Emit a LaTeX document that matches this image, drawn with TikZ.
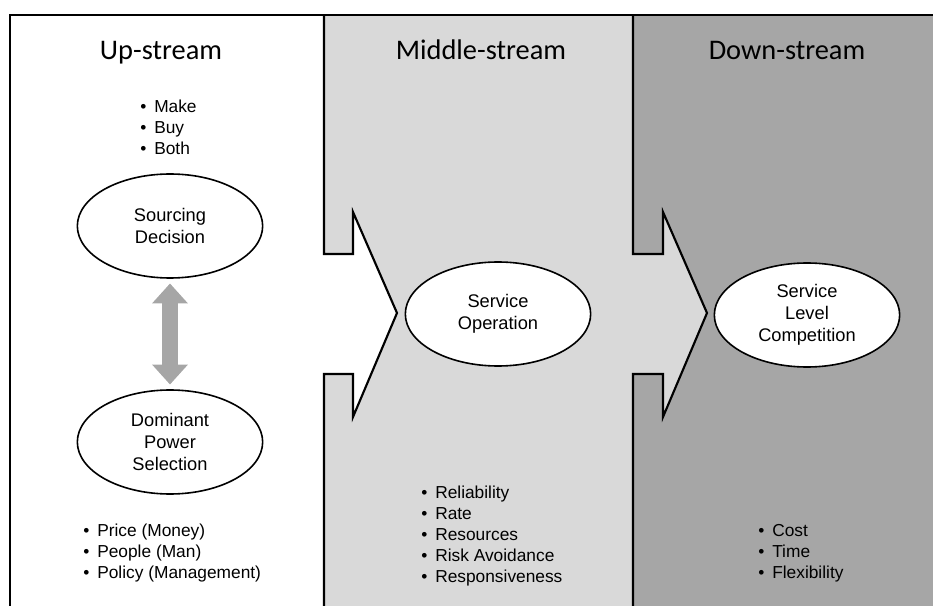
\documentclass[tikz,border=0pt]{standalone}
\usepackage{fontspec}
\setmainfont{Liberation Sans}
\newfontfamily\titlefont{Carlito}
\usetikzlibrary{shapes.geometric,arrows.meta}

\definecolor{midgray}{HTML}{D9D9D9}
\definecolor{downgray}{HTML}{A6A6A6}

\newcommand{\bitem}[1]{\makebox[10.5pt][l]{\textbullet}#1}

\begin{document}
\begin{tikzpicture}[x=0.75pt, y=-0.75pt, line join=miter,
  stage/.style={ellipse, draw, line width=1.2pt, fill=white, minimum width=139pt, minimum height=78pt,
    inner sep=0pt, align=center, font=\fontsize{13.7}{16.5}\selectfont},
  heading/.style={anchor=base, inner sep=0pt, font=\titlefont\fontsize{21.3}{25}\selectfont},
  bullets/.style={anchor=base west, inner sep=0pt, align=left, font=\fontsize{13}{15.75}\selectfont},
  boundary/.style={line width=1.6pt},
  linkarrow/.style={draw=downgray, line width=12.5pt,
    {Triangle[width=26pt,length=15pt]}-{Triangle[width=26pt,length=15pt]},
    shorten <=3.5pt, shorten >=3.5pt}]

  \useasboundingbox (0,0) rectangle (933,606);

  % Panels
  \fill[midgray] (324,15) -- (324,254) -- (353,254) -- (353,212) -- (397,313) -- (353,417)
    -- (353,374) -- (324,374) -- (324,606) -- (933,606) -- (933,15) -- cycle;
  \fill[downgray] (633,15) -- (633,254) -- (663,254) -- (663,212) -- (707,313) -- (663,417)
    -- (663,374) -- (633,374) -- (633,606) -- (933,606) -- (933,15) -- cycle;

  % Panel edges
  \draw[boundary] (324,15) -- (324,254) -- (353,254) -- (353,212) -- (397,313) -- (353,417)
    -- (353,374) -- (324,374) -- (324,606);
  \draw[boundary] (633,15) -- (633,254) -- (663,254) -- (663,212) -- (707,313) -- (663,417)
    -- (663,374) -- (633,374) -- (633,606);
  \draw[line width=2pt] (10,606) -- (10,15) -- (933,15);

  % Headings
  \node[heading] (up)   at (161,60) {Up-stream};
  \node[heading] (mid)  at (481,60) {Middle-stream};
  \node[heading] (down) at (787,60) {Down-stream};

  % Stages
  \node[stage] (src) at (170,226) {Sourcing\\Decision};
  \node[stage] (dom) at (170,442) {Dominant\\Power\\Selection};
  \node[stage] (ops) at (498,314) {Service\\Operation};
  \node[stage] (lvl) at (807,315) {Service\\Level\\Competition};

  \draw[linkarrow] (src) -- (dom);

  % Lists (anchored on the last line)
  \node[bullets] (make) at (140,155) {\bitem{Make}\\\bitem{Buy}\\\bitem{Both}};
  \node[bullets] (power) at (83,578) {\bitem{Price (Money)}\\\bitem{People (Man)}\\\bitem{Policy (Management)}};
  \node[bullets] (rs) at (421,582) {\bitem{Reliability}\\\bitem{Rate}\\\bitem{Resources}\\\bitem{Risk Avoidance}\\\bitem{Responsiveness}};
  \node[bullets] (ctf) at (758,578) {\bitem{Cost}\\\bitem{Time}\\\bitem{Flexibility}};

\end{tikzpicture}
\end{document}
